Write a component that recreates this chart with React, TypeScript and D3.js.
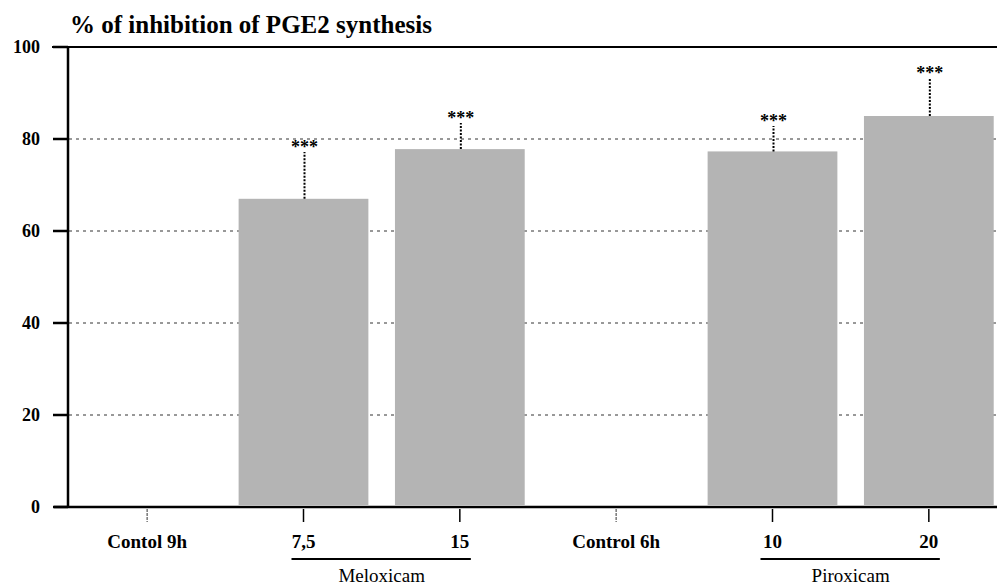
import React from "react";
import * as d3 from "d3";

// data
const categories = ["Contol 9h", "7,5", "15", "Control 6h", "10", "20"];
const inhibition = [0, 67, 77.8, 0, 77.3, 85];
const errUpper = [0, 77.2, 83.5, 0, 82.8, 93.3];
const stars = ["", "***", "***", "", "***", "***"];
const yTicks = [0, 20, 40, 60, 80, 100];
const groups = [
  { name: "Meloxicam", from: "7,5", to: "15" },
  { name: "Piroxicam", from: "10", to: "20" },
];

const W = 997,
  H = 587;
const FONT = "Liberation Serif";

export default function App() {
  const x = d3.scaleBand().domain(categories).range([69, 1007]).paddingInner(0.17).paddingOuter(0.085);
  const y = d3.scaleLinear().domain([0, 100]).range([507, 47]);
  const xc = (c: string) => (x(c) as number) + x.bandwidth() / 2;

  const data = categories.map((c, i) => ({ c, v: inhibition[i], e: errUpper[i], s: stars[i] }));
  const withBars = data.filter((d) => d.v > 0);

  return (
    <svg width={W} height={H} style={{ position: "absolute", left: 0, top: 0, background: "#fff" }}>
      {/* title */}
      <text x={70} y={33} fontFamily={FONT} fontWeight="bold" fontSize={25}>
        % of inhibition of PGE2 synthesis
      </text>

      {/* dashed gridlines */}
      {yTicks
        .filter((d) => d > 0 && d < 100)
        .map((d) => (
          <line
            key={"g" + d}
            x1={69}
            x2={W}
            y1={y(d)}
            y2={y(d)}
            stroke="#333"
            strokeWidth={1}
            strokeDasharray="3,4"
          />
        ))}

      {/* bars */}
      {withBars.map((d) => (
        <rect
          key={"b" + d.c}
          x={x(d.c)}
          width={x.bandwidth()}
          y={y(d.v)}
          height={y(0) - 2 - y(d.v)}
          fill="#b4b4b4"
        />
      ))}

      {/* dotted error bars and stars */}
      {withBars.map((d) => (
        <g key={"e" + d.c}>
          <line
            x1={xc(d.c) + 1}
            x2={xc(d.c) + 1}
            y1={y(d.v)}
            y2={y(d.e)}
            stroke="#000"
            strokeWidth={2}
            strokeDasharray="2,1.5"
          />
          <text
            x={xc(d.c) + 1}
            y={y(d.e) + 1}
            textAnchor="middle"
            fontFamily={FONT}
            fontWeight="bold"
            fontSize={18}
          >
            {d.s}
          </text>
        </g>
      ))}

      {/* top frame line at 100 */}
      <line x1={52} x2={W} y1={y(100)} y2={y(100)} stroke="#000" strokeWidth={2} />

      {/* y axis */}
      <line x1={68} x2={68} y1={y(100)} y2={y(0)} stroke="#000" strokeWidth={2.5} />
      {yTicks.map((d) => (
        <g key={"y" + d}>
          <line x1={53} x2={68} y1={y(d)} y2={y(d)} stroke="#000" strokeWidth={2.5} />
          <text
            x={40}
            y={y(d)}
            dy="0.34em"
            textAnchor="end"
            fontFamily={FONT}
            fontWeight="bold"
            fontSize={18}
          >
            {d}
          </text>
        </g>
      ))}

      {/* x axis */}
      <line x1={54} x2={W} y1={y(0)} y2={y(0)} stroke="#000" strokeWidth={2.5} />
      {categories.map((c) => (
        <g key={"x" + c}>
          <line
            x1={xc(c)}
            x2={xc(c)}
            y1={y(0) + 2}
            y2={y(0) + 15}
            stroke={c.startsWith("Con") ? "#777" : "#000"}
            strokeWidth={1.5}
            strokeDasharray={c.startsWith("Con") ? "3,1" : undefined}
          />
          <text x={xc(c)} y={548} textAnchor="middle" fontFamily={FONT} fontWeight="bold" fontSize={19}>
            {c}
          </text>
        </g>
      ))}

      {/* group brackets */}
      {groups.map((gr) => (
        <g key={gr.name}>
          <line
            x1={xc(gr.from) - 12}
            x2={xc(gr.to) + 11}
            y1={559}
            y2={559}
            stroke="#000"
            strokeWidth={2}
          />
          <text
            x={(xc(gr.from) + xc(gr.to)) / 2}
            y={582}
            textAnchor="middle"
            fontFamily={FONT}
            fontSize={19}
          >
            {gr.name}
          </text>
        </g>
      ))}
    </svg>
  );
}
